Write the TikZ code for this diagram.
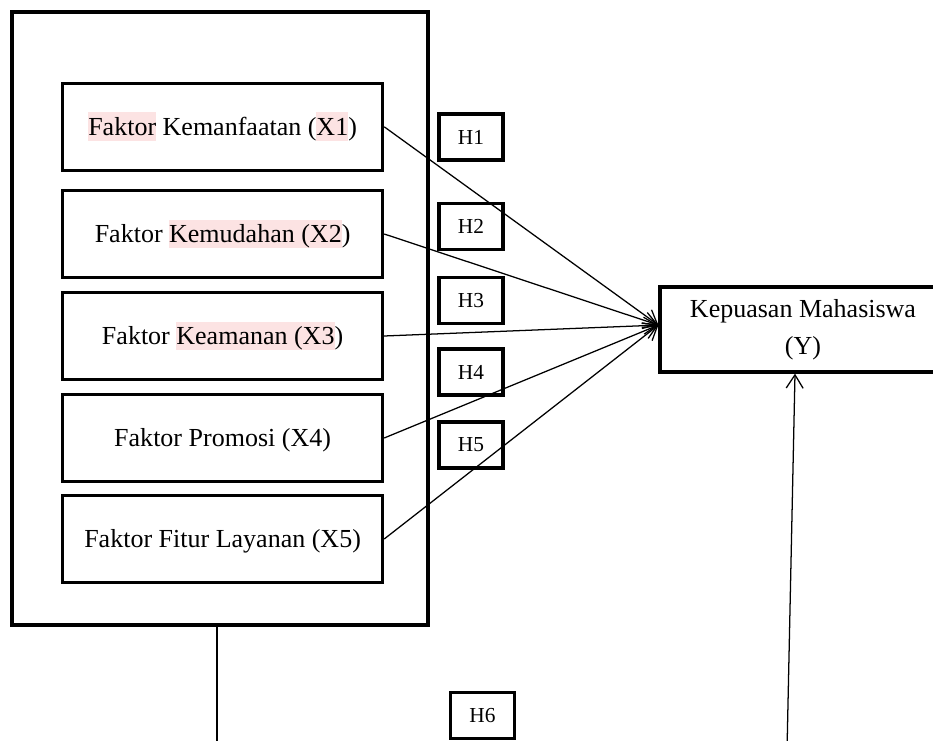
\documentclass[tikz,border=0pt]{standalone}
\usepackage{fontspec}
\setmainfont{Liberation Serif}
\usetikzlibrary{arrows.meta}

\definecolor{hlpink}{HTML}{FCE3E3}
\newcommand{\sorot}[1]{{\setlength{\fboxsep}{0pt}\colorbox{hlpink}{\rule[-0.23em]{0pt}{1.11em}#1}}}

\tikzset{
 kotak/.style={draw, line width=2.3pt, minimum width=8cm, minimum height=2.17cm,
  text height=16.3pt, text depth=4.3pt, font=\fontsize{18.5}{26}\selectfont},
 hipo/.style={draw, line width=2.3pt, minimum width=1.6cm, minimum height=1.15cm,
  font=\fontsize{15.2}{18}\selectfont},
 panah/.style={line width=0.9pt, -{Straight Barb[length=9.5pt,width=12pt]}}
}

\begin{document}
\begin{tikzpicture}

 \useasboundingbox (0,0) rectangle (23.325,18.5);
 \clip (0,0) rectangle (23.325,18.5);

% Variabel bebas
 \node[draw, line width=2.3pt, minimum width=10.4cm, minimum height=15.325cm] (luar) at (5.5,10.5375) {};
 \node[kotak] (x1) at (5.565,15.33) {\sorot{Faktor} Kemanfaatan (\sorot{X1})};
 \node[kotak] (x2) at (5.565,12.65) {Faktor \sorot{Kemudahan (X2})};
 \node[kotak] (x3) at (5.565,10.1) {Faktor \sorot{Keamanan (X3})};
 \node[kotak] (x4) at (5.565,7.55) {Faktor Promosi (X4)};
 \node[kotak] (x5) at (5.565,5.025) {Faktor Fitur Layanan (X5)};

% Variabel terikat
 \node[draw, line width=2.3pt, minimum width=7.15cm, minimum height=2.125cm, align=center,
  font=\fontsize{18.5}{26}\selectfont] (y) at (20.075,10.2625) {Kepuasan Mahasiswa\\(Y)};

% Label hipotesis
 \node[hipo] (h1) at (11.775,15.075) {H1};
 \node[hipo] (h2) at (11.775,12.8375) {H2};
 \node[hipo] (h3) at (11.775,10.9875) {H3};
 \node[hipo] (h4) at (11.775,9.2) {H4};
 \node[hipo] (h5) at (11.775,7.375) {H5};
 \node[hipo] (h6) at (12.06,0.6125) {H6};

% Panah parsial
 \draw[panah] (x1.east) -- ([yshift=0.11cm]y.west);
 \draw[panah] (x2.east) -- ([yshift=0.11cm]y.west);
 \draw[panah] (x3.east) -- ([yshift=0.11cm]y.west);
 \draw[panah] (x4.east) -- ([yshift=0.11cm]y.west);
 \draw[panah] (x5.east) -- ([yshift=0.11cm]y.west);

% Panah simultan (terpotong di bawah)
 \coordinate (bawahkiri) at (5.425,-0.5);
 \coordinate (bawahkanan) at (19.67,-0.5);
 \draw[line width=0.9pt] ([xshift=-0.075cm]luar.south) -- (bawahkiri);
 \draw[panah] (bawahkanan) -- ([xshift=-0.2cm]y.south);

\end{tikzpicture}
\end{document}
